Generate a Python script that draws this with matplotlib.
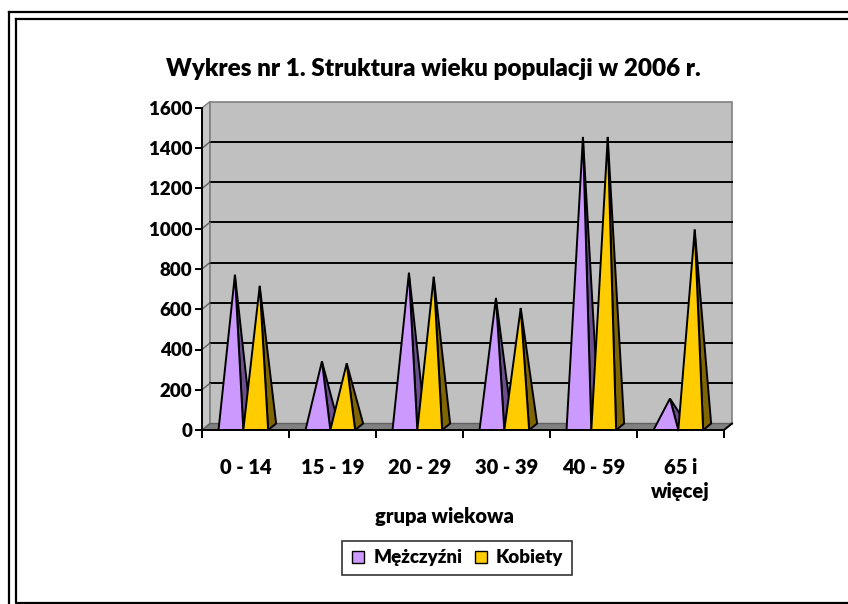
import matplotlib
matplotlib.use("Agg")
import matplotlib.pyplot as plt
from matplotlib.patches import Polygon, Rectangle
from matplotlib.lines import Line2D

categories = ["0 - 14", "15 - 19", "20 - 29", "30 - 39", "40 - 59", "65 i\nwięcej"]
men = [755, 325, 765, 640, 1440, 140]
women = [700, 315, 745, 590, 1440, 980]
series_names = ["Mężczyźni", "Kobiety"]
y_ticks = [0, 200, 400, 600, 800, 1000, 1200, 1400, 1600]

FONT = "Lato"
WEIGHT = "heavy"
W, H = 848, 604

front_colors = ["#CC99FF", "#FFCC00"]
side_colors = ["#6B4F8E", "#806600"]

fig = plt.figure(figsize=(W / 100, H / 100), dpi=100)
# axes box = front plane of the 3D plot, in pixels
x0, x1, y0, y1 = 202, 724, 430, 108
ax = fig.add_axes([x0 / W, 1 - y0 / H, (x1 - x0) / W, (y0 - y1) / H])
ax.set_xlim(0, len(categories))
ax.set_ylim(0, 1600)
ax.patch.set_visible(False)

# depth offset of the 3D box in data units
ppx = (x1 - x0) / len(categories)
ppy = (y0 - y1) / 1600
dx = 8 / ppx
dy = 6.5 / ppy
n = len(categories)
ymax = y_ticks[-1]

# walls and floor
ax.add_patch(Polygon([(0, 0), (dx, dy), (dx, ymax + dy), (0, ymax)], closed=True,
                     facecolor="#C8C8C8", edgecolor="#808080", lw=1, clip_on=False, zorder=1))
ax.add_patch(Rectangle((dx, dy), n, ymax, facecolor="#C0C0C0", edgecolor="#808080",
                       lw=1.2, clip_on=False, zorder=1))
ax.add_patch(Polygon([(0, 0), (n, 0), (n + dx, dy), (dx, dy)], closed=True,
                     facecolor="#808080", edgecolor="#606060", lw=1, clip_on=False, zorder=1))
for v in y_ticks[1:-1]:
    ax.add_line(Line2D([dx, n + dx], [v + dy, v + dy], color="black", lw=1.4, zorder=2,
                       clip_on=False))
    ax.add_line(Line2D([0, dx], [v, v + dy], color="#606060", lw=1.0, zorder=2,
                       clip_on=False))

# pyramids
bw = 0.285
offset = 0.19
for i in range(n):
    for s, vals in enumerate([men, women]):
        left = i + offset + s * bw
        right = left + bw
        apex = (left + bw / 2 + dx / 2, vals[i] + dy / 2)
        ax.add_patch(Polygon([(right, 0), (right + dx, dy), apex], closed=True,
                             facecolor=side_colors[s], edgecolor="black", lw=1.4,
                             joinstyle="miter", clip_on=False, zorder=3 + 2 * s))
        ax.add_patch(Polygon([(left, 0), (right, 0), apex], closed=True,
                             facecolor=front_colors[s], edgecolor="black", lw=1.4,
                             joinstyle="miter", clip_on=False, zorder=4 + 2 * s))

# front axes
for side in ["top", "right"]:
    ax.spines[side].set_visible(False)
for side in ["left", "bottom"]:
    ax.spines[side].set_linewidth(1.4)
    ax.spines[side].set_zorder(10)
ax.add_line(Line2D([n, n + dx], [0, dy], color="black", lw=1.4, clip_on=False, zorder=10))

ax.set_yticks(y_ticks)
ax.set_yticklabels([str(v) for v in y_ticks])
ax.set_xticks(range(n + 1))
ax.set_xticklabels([])
ax.set_xticks([i + 0.5 for i in range(n)], minor=True)
ax.set_xticklabels(categories, minor=True, linespacing=1.35, va="top")
ax.tick_params(axis="y", direction="out", length=5, width=1.4, pad=2,
               labelsize=13.5)
ax.tick_params(axis="x", which="major", direction="out", length=6, width=1.4)
ax.tick_params(axis="x", which="minor", length=0, pad=20, labelsize=14.5)
for lab in ax.get_yticklabels() + ax.get_xticklabels(minor=True):
    lab.set_fontfamily(FONT)
    lab.set_fontweight(WEIGHT)

fig.text(433 / W, 1 - 69 / H, "Wykres nr 1. Struktura wieku populacji w 2006 r.",
         ha="center", va="center", fontsize=17.5, fontweight=WEIGHT, family=FONT)
fig.text(444 / W, 1 - 516 / H, "grupa wiekowa", ha="center", va="center",
         fontsize=14.5, fontweight=WEIGHT, family=FONT)

# legend
handles = [Line2D([], [], marker="s", ls="none", markersize=8, markerfacecolor=c,
                  markeredgecolor="black", markeredgewidth=1.0) for c in front_colors]
leg = fig.legend(handles, series_names, loc="center", bbox_to_anchor=(457 / W, 1 - 558 / H),
                 ncol=2, frameon=True, fancybox=False, edgecolor="black",
                 prop={"family": FONT, "weight": WEIGHT, "size": 13.5},
                 handlelength=0.8, handletextpad=0.4, columnspacing=0.6,
                 borderpad=0.45)
leg.get_frame().set_linewidth(1.2)

# double frame around the chart area (extends past the right and bottom edges)
def frame(l, t, r, b, lw=1.6):
    fig.add_artist(Line2D([l / W, r / W, r / W, l / W, l / W],
                          [1 - t / H, 1 - t / H, 1 - b / H, 1 - b / H, 1 - t / H],
                          color="black", lw=lw, transform=fig.transFigure))

frame(8.5, 11.5, 1000, 800)
frame(15.5, 18.5, 1000, 603)

fig.savefig("out.png", dpi=100)
